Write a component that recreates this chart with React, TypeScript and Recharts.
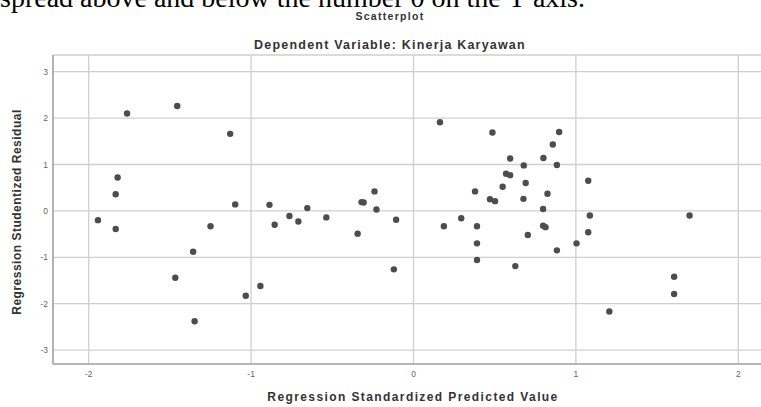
import React from "react";
import { ScatterChart, Scatter, XAxis, YAxis, CartesianGrid } from "recharts";

const predictedValues = [
  -1.943, -1.764, -1.455, -1.129, -1.822, -1.834, -1.834, -1.098, -0.887, -0.855,
  -0.764, -0.709, -0.654, -0.537, -0.344, -0.32, -0.307, -0.24, -0.228, -0.107,
  -0.121, -1.25, -1.357, -1.467, -0.943, -1.033, -1.348,
  0.163, 0.486, 0.897, 0.858, 0.595, 0.8, 0.679, 0.883, 0.57, 0.595,
  1.076, 0.379, 0.549, 0.691, 0.825, 0.471, 0.502, 0.677, 0.798, 0.294,
  0.187, 0.391, 0.391, 0.391, 0.704, 0.798, 0.813, 0.883, 0.627, 1.086,
  1.076, 1.004, 1.206, 1.7, 1.605, 1.605,
];
const studentizedResiduals = [
  -0.2, 2.1, 2.26, 1.66, 0.72, 0.36, -0.39, 0.14, 0.13, -0.3,
  -0.11, -0.23, 0.06, -0.14, -0.49, 0.19, 0.18, 0.42, 0.03, -0.19,
  -1.26, -0.33, -0.88, -1.44, -1.62, -1.83, -2.38,
  1.91, 1.69, 1.7, 1.43, 1.13, 1.14, 0.98, 0.99, 0.8, 0.77,
  0.65, 0.42, 0.52, 0.6, 0.37, 0.25, 0.21, 0.26, 0.04, -0.16,
  -0.33, -0.33, -0.7, -1.06, -0.52, -0.32, -0.35, -0.85, -1.19, -0.1,
  -0.46, -0.7, -2.17, -0.1, -1.42, -1.79,
];
const xTicks = [-2, -1, 0, 1, 2];
const yTicks = [-3, -2, -1, 0, 1, 2, 3];

const data = predictedValues.map((x, i) => ({ x, y: studentizedResiduals[i] }));

const Dot = (props: any) => (
  <circle cx={props.cx} cy={props.cy} r={3.2} fill="#4d4d4d" />
);

export default function App() {
  const tickStyle = { fontSize: 8.5, fill: "#666", fontFamily: "Liberation Sans, Arial, sans-serif" };
  const sans = "Liberation Sans, Arial, sans-serif";
  return (
    <div
      style={{
        position: "absolute",
        left: 0,
        top: 0,
        width: 761,
        height: 407,
        overflow: "hidden",
        background: "#fff",
      }}
    >
      <ScatterChart
        width={774}
        height={407}
        margin={{ top: 55, right: 0, bottom: 0, left: 0 }}
      >
        <CartesianGrid stroke="#cfcfcf" strokeWidth={1.3} />
        <XAxis
          type="number"
          dataKey="x"
          domain={[-2.22, 2.22]}
          ticks={xTicks}
          height={43}
          tickSize={0}
          tickMargin={7}
          tick={tickStyle}
          axisLine={{ stroke: "#a8a8a8", strokeWidth: 1.6 }}
          allowDataOverflow
        />
        <YAxis
          type="number"
          dataKey="y"
          domain={[-3.3, 3.36]}
          ticks={yTicks}
          width={53}
          tickSize={0}
          tickMargin={5}
          tick={tickStyle}
          axisLine={{ stroke: "#a8a8a8", strokeWidth: 1.6 }}
          allowDataOverflow
        />
        <Scatter data={data} shape={Dot} isAnimationActive={false} />
      </ScatterChart>
      <svg
        width={761}
        height={407}
        style={{ position: "absolute", left: 0, top: 0, pointerEvents: "none" }}
      >
        <text
          x={0}
          y={7}
          fontFamily="Liberation Serif, Times New Roman, serif"
          fontSize={28}
          fill="#000"
        >
          spread above and below the number 0 on the Y axis.
        </text>
        <text
          x={390}
          y={20}
          textAnchor="middle"
          fontFamily={sans}
          fontWeight="bold"
          fontSize={10.5}
          letterSpacing={1.3}
          fill="#333"
        >
          Scatterplot
        </text>
        <text
          x={390}
          y={49}
          textAnchor="middle"
          fontFamily={sans}
          fontWeight="bold"
          fontSize={12.5}
          letterSpacing={1.2}
          fill="#333"
        >
          Dependent Variable: Kinerja Karyawan
        </text>
        <text
          x={413}
          y={401}
          textAnchor="middle"
          fontFamily={sans}
          fontWeight="bold"
          fontSize={12}
          letterSpacing={1.4}
          fill="#333"
        >
          Regression Standardized Predicted Value
        </text>
        <text
          x={0}
          y={0}
          transform="translate(21 212) rotate(-90)"
          textAnchor="middle"
          fontFamily={sans}
          fontWeight="bold"
          fontSize={12}
          letterSpacing={0.5}
          fill="#333"
        >
          Regression Studentized Residual
        </text>
      </svg>
    </div>
  );
}
